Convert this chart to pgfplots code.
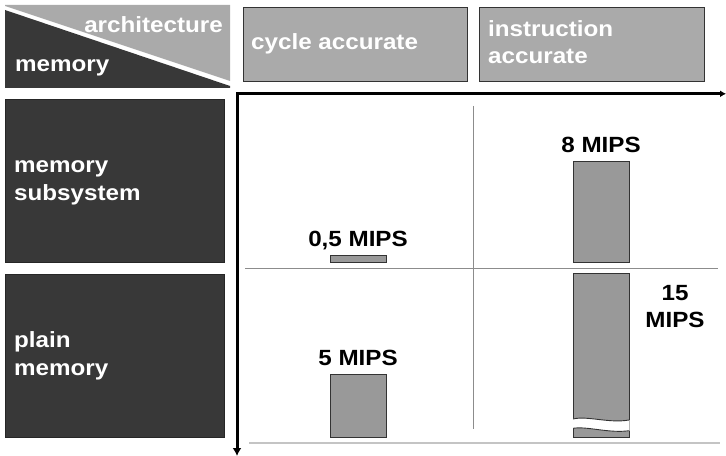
\documentclass[border=0pt]{standalone}
\usepackage{pgfplots}
\pgfplotsset{compat=1.18}
\usepackage{fontspec}
\setmainfont{Liberation Sans}[FakeStretch=1.1]
\usetikzlibrary{arrows.meta}
\definecolor{darkbox}{HTML}{383838}
\definecolor{lightbox}{HTML}{AAAAAA}
\definecolor{barfill}{HTML}{999999}
\definecolor{bardraw}{HTML}{333333}
\definecolor{gridc}{HTML}{8C8C8C}
\definecolor{basec}{HTML}{C4C4C4}
\newcommand\lab{\fontsize{22bp}{27.5bp}\selectfont\bfseries}
\pgfplotsset{
  barstyle/.style={fill=barfill, draw=bardraw, line width=1bp, bar width=56bp, bar shift=0pt},
  mipslabels/.style={
    nodes near coords={\pgfmathprintnumber[use comma,assume math mode=true]{\pgfplotspointmeta}~MIPS},
    every node near coord/.append style={font=\lab, text=black, inner sep=0pt, text depth=0pt, yshift=8.5bp}},
  cellaxis/.style={anchor=south west, scale only axis, width=489bp,
    xmin=-0.502, xmax=1.510, ymin=0, hide axis, ybar, clip mode=individual}
}
\begin{document}
\begin{tikzpicture}
\begin{scope}[x=1bp,y=-1bp]
\path[use as bounding box] (0,0) rectangle (726,456);
% corner header
\fill[lightbox] (5,5) -- (230,5) -- (230,81) -- (5,6) -- cycle;
\fill[darkbox] (5,10) -- (230,86) -- (230,88) -- (5,88) -- cycle;
\node[anchor=base east, text=white, font=\lab, inner sep=0] at (223,33) {architecture};
\node[anchor=base west, text=white, font=\lab, inner sep=0] at (15,72) {memory};
% column headers
\draw[fill=lightbox, draw=bardraw] (243,7) rectangle (467,81);
\node[anchor=base west, text=white, font=\lab, inner sep=0] at (251,50) {cycle accurate};
\draw[fill=lightbox, draw=bardraw] (479,7) rectangle (704,81);
\node[anchor=base west, text=white, font=\lab, inner sep=0] at (488,37) {instruction};
\node[anchor=base west, text=white, font=\lab, inner sep=0] at (488,64) {accurate};
% row headers
\draw[fill=darkbox, draw=black!85] (5,99) rectangle (224,262);
\node[anchor=base west, text=white, font=\lab, inner sep=0] at (14,173) {memory};
\node[anchor=base west, text=white, font=\lab, inner sep=0] at (14,200.5) {subsystem};
\draw[fill=darkbox, draw=black!85] (5,274) rectangle (224,437);
\node[anchor=base west, text=white, font=\lab, inner sep=0] at (14,348) {plain};
\node[anchor=base west, text=white, font=\lab, inner sep=0] at (14,375.5) {memory};
% grid
\draw[gridc, line width=0.8bp] (473,106) -- (473,429);
\draw[gridc, line width=0.8bp] (245,268) -- (718,268);
\draw[basec, line width=2bp] (249,443) -- (720,443);
% axes arrows
\draw[line width=3bp, {Latex[length=6bp,width=7bp]}-{Latex[length=8bp,width=9bp]}] (726,93.8) -- (237,93.8) -- (237,456);
% 15 MIPS label
\node[anchor=base, font=\lab, inner sep=0] at (675,301) {15};
\node[anchor=base, font=\lab, inner sep=0] at (675,328) {MIPS};
\end{scope}

% top row: memory subsystem
\begin{axis}[cellaxis, at={(236bp,-262bp)}, height=162bp, ymax=12.96]
\addplot[barstyle, mipslabels] coordinates {(0,0.5) (1,8)};
\end{axis}

% bottom row: plain memory
\begin{axis}[cellaxis, at={(236bp,-437bp)}, height=163.5bp, ymax=13.08]
\addplot[barstyle, mipslabels] coordinates {(0,5)};
\addplot[barstyle] coordinates {(1,15)};
\draw[bardraw, line width=1bp] ([xshift=-28bp]axis cs:1,13.08) -- ([xshift=28bp]axis cs:1,13.08);
\begin{scope}[shift={(axis cs:1,0)}, x=1bp, y=-1bp]
\fill[white] (-28.6,-18) .. controls (-14,-21.5) and (8,-13.5) .. (28.6,-17) -- (28.6,-6.3) .. controls (8,-3.5) and (-14,-11) .. (-28.6,-8.7) -- cycle;
\draw[bardraw, line width=0.9bp] (-28,-18) .. controls (-14,-21.5) and (8,-13.5) .. (28,-17);
\draw[bardraw, line width=0.9bp] (-28,-8.7) .. controls (-14,-11) and (8,-3.5) .. (28,-6.3);
\end{scope}
\end{axis}
\end{tikzpicture}
\end{document}
